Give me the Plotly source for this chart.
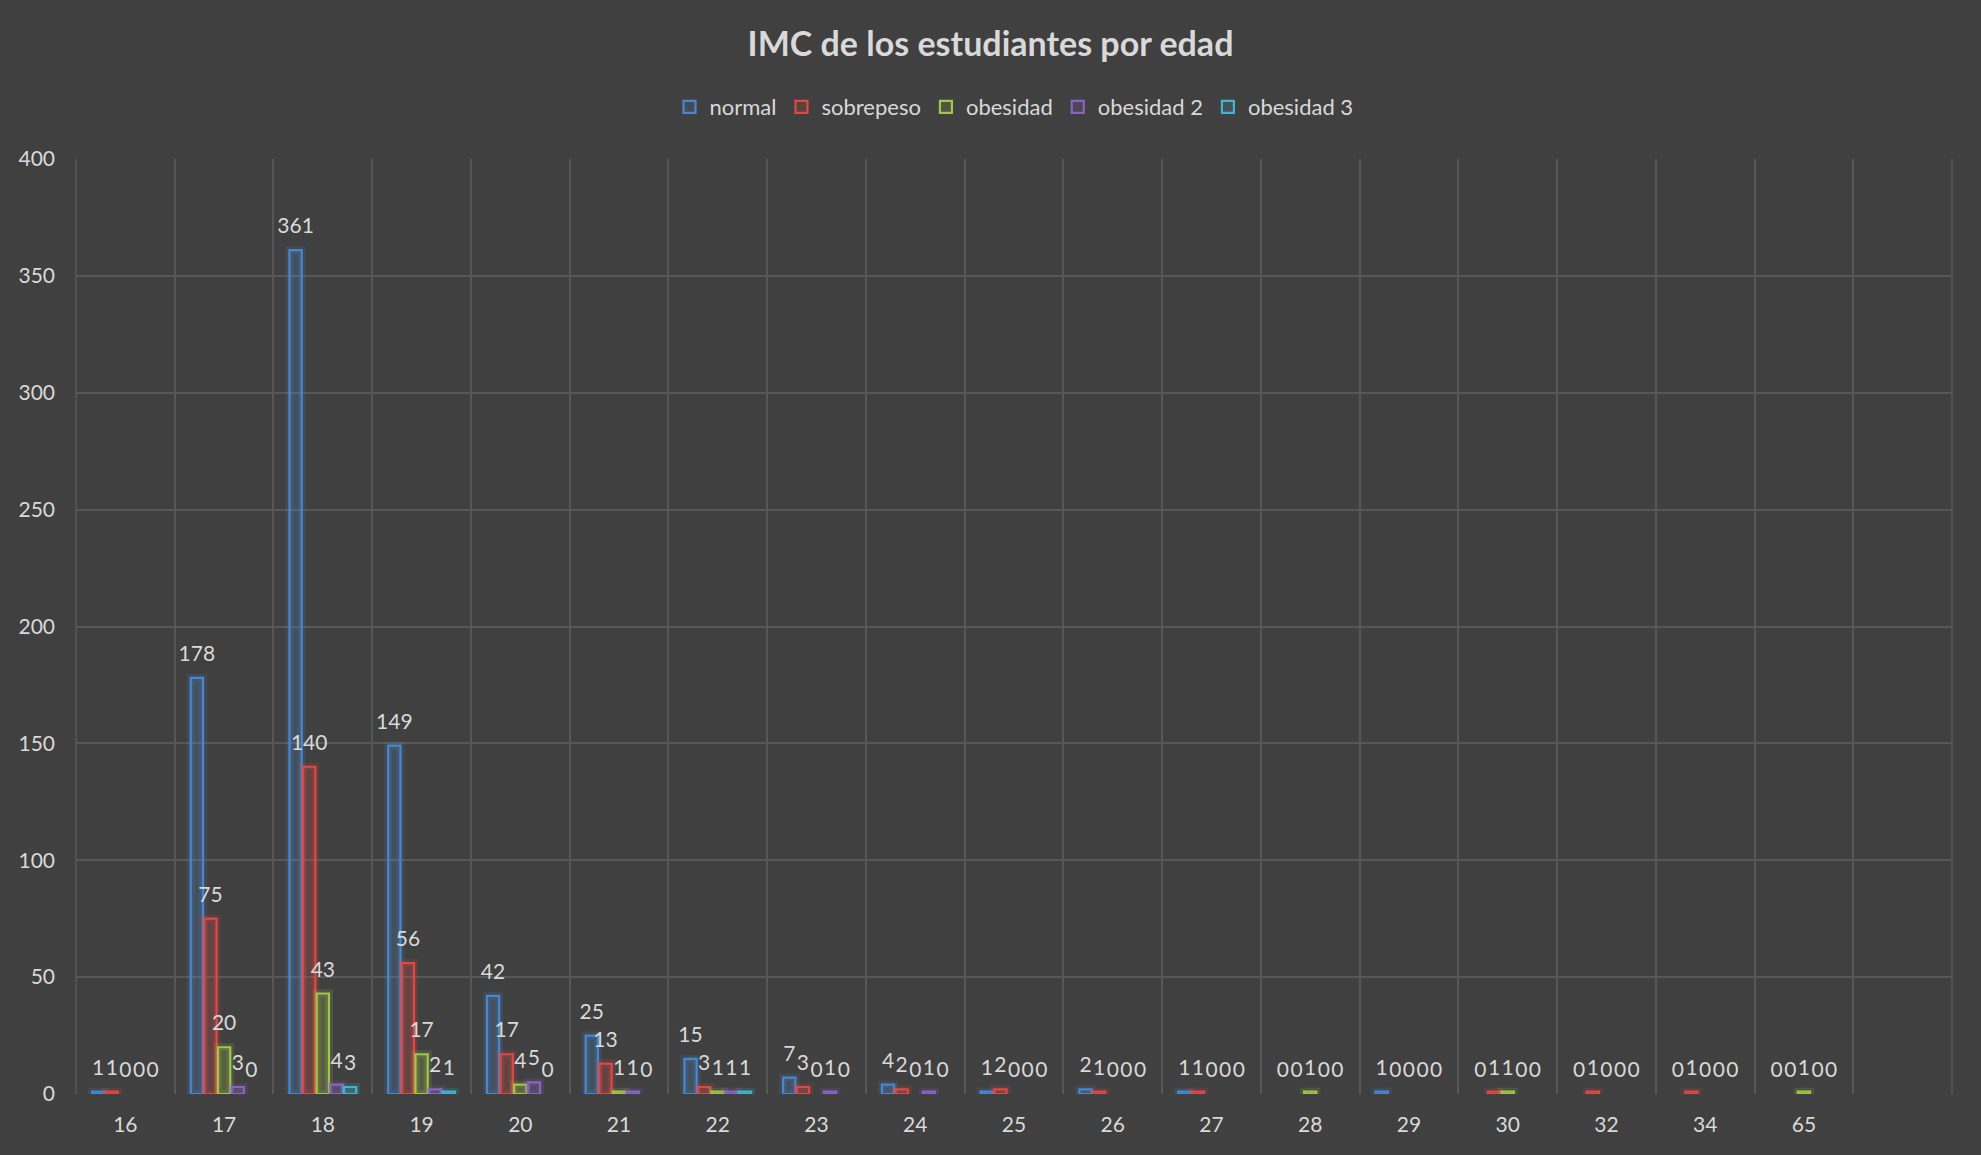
import plotly.graph_objects as go

edades = ["16", "17", "18", "19", "20", "21", "22", "23", "24", "25", "26", "27", "28", "29", "30", "32", "34", "65"]
normal = [1, 178, 361, 149, 42, 25, 15, 7, 4, 1, 2, 1, 0, 1, 0, 0, 0, 0]
sobrepeso = [1, 75, 140, 56, 17, 13, 3, 3, 2, 2, 1, 1, 0, 0, 1, 1, 1, 0]
obesidad = [0, 20, 43, 17, 4, 1, 1, 0, 0, 0, 0, 0, 1, 0, 1, 0, 0, 1]
obesidad2 = [0, 3, 4, 2, 5, 1, 1, 1, 1, 0, 0, 0, 0, 0, 0, 0, 0, 0]
obesidad3 = [0, 0, 3, 1, 0, 0, 1, 0, 0, 0, 0, 0, 0, 0, 0, 0, 0, 0]

series = [
    ("normal", normal, (74, 134, 208)),
    ("sobrepeso", sobrepeso, (222, 72, 70)),
    ("obesidad", obesidad, (160, 198, 76)),
    ("obesidad 2", obesidad2, (138, 100, 192)),
    ("obesidad 3", obesidad3, (64, 180, 208)),
]

FONT = "Lato"
TXT = "#d9d9d9"
GAP = 0.31

fig = go.Figure()
for name, vals, (r, g, b) in series:
    shown = [v if v != 0 else None for v in vals]  # zero bars are not drawn
    fig.add_trace(go.Bar(
        x=edades, y=shown, offsetgroup=name, showlegend=False, hoverinfo="skip",
        marker=dict(color=f"rgba({r},{g},{b},0.08)",
                    line=dict(color=f"rgba({r},{g},{b},0.16)", width=8)),
    ))
    fig.add_trace(go.Bar(
        x=edades, y=shown, name=name, offsetgroup=name,
        marker=dict(color=f"rgba({r},{g},{b},0.16)", line=dict(color=f"rgb({r},{g},{b})", width=2.2)),
    ))
for name, vals, _ in series:
    fig.add_trace(go.Scatter(
        x=edades, y=vals, mode="markers+text", offsetgroup=name, showlegend=False,
        hoverinfo="skip", text=[str(v) for v in vals], textposition="top center",
        marker=dict(size=17, opacity=0), cliponaxis=False,
        textfont=dict(family=FONT, size=21, color=TXT),
    ))

fig.update_layout(
    width=1981, height=1155,
    paper_bgcolor="#404040", plot_bgcolor="#404040",
    barmode="group", bargap=GAP, bargroupgap=0.1,
    scattermode="group", scattergap=GAP,
    margin=dict(l=76, r=29, t=159, b=61),
    title=dict(text="<b>IMC de los estudiantes por edad</b>", x=0.5, xanchor="center",
               y=1 - 44 / 1155, yanchor="middle",
               font=dict(family=FONT, size=34, color=TXT)),
    legend=dict(orientation="h", x=0.5, xanchor="center", y=1 - 107 / 1155, yref="container",
                yanchor="middle", font=dict(family=FONT, size=22, color=TXT),
                itemwidth=30, traceorder="normal", bgcolor="rgba(0,0,0,0)"),
    font=dict(family=FONT, color=TXT),
)
fig.update_xaxes(
    type="category", categoryorder="array", categoryarray=edades,
    range=[-0.5, len(edades) + 0.5], tickson="boundaries",
    showgrid=True, gridcolor="#575757", gridwidth=1.5,
    showline=False, zeroline=False, ticks="",
    tickfont=dict(family=FONT, size=21, color=TXT), ticklabelstandoff=16,
)
fig.update_yaxes(
    range=[0, 400], dtick=50, showgrid=True, gridcolor="#575757", gridwidth=1.5,
    zeroline=False, showline=False, ticks="",
    tickfont=dict(family=FONT, size=21, color=TXT), ticklabelstandoff=20,
)
fig.add_shape(type="line", xref="paper", yref="paper", x0=1, x1=1, y0=0, y1=1,
              line=dict(color="#575757", width=1.5))
fig.add_shape(type="line", xref="paper", yref="paper", x0=0, x1=0, y0=0, y1=1,
              line=dict(color="#575757", width=1.5))
fig.write_html("out.html")
